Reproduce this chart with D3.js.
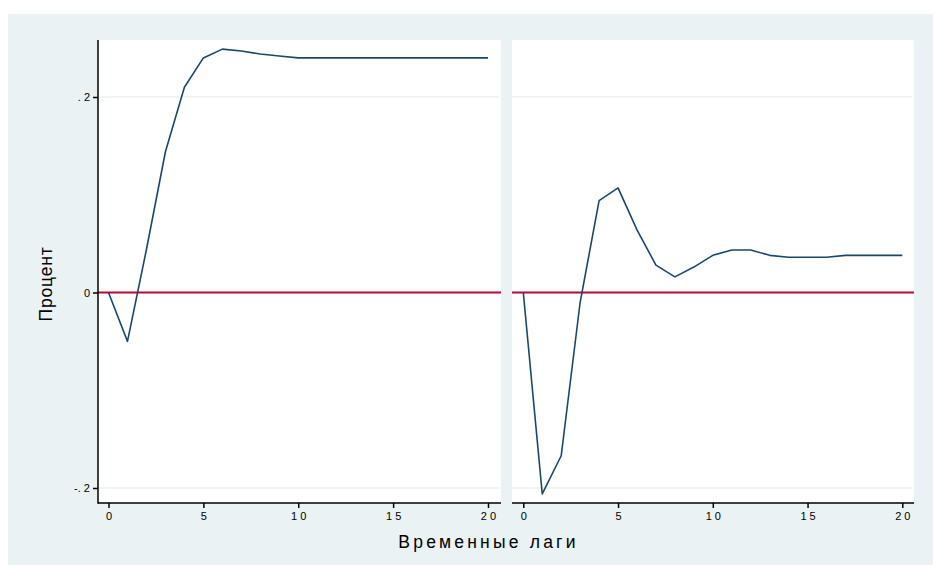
<!DOCTYPE html>
<html><head><meta charset="utf-8">
<script src="https://cdn.jsdelivr.net/npm/d3@7"></script>
<style>body{margin:0;background:#fff;}svg{display:block;font-family:Arial,"Liberation Sans",sans-serif;}</style>
</head><body>
<svg id="c" width="933" height="565"></svg>
<script>
const lags = d3.range(0, 21);
const seriesLeft = [0, -0.050, 0.044, 0.144, 0.210, 0.240, 0.249, 0.247, 0.244, 0.242, 0.240, 0.240, 0.240, 0.240, 0.240, 0.240, 0.240, 0.240, 0.240, 0.240, 0.240];
const seriesRight = [0, -0.206, -0.167, -0.010, 0.094, 0.107, 0.064, 0.028, 0.016, 0.026, 0.038, 0.0435, 0.0435, 0.038, 0.036, 0.036, 0.036, 0.038, 0.038, 0.038, 0.038];
const xTicks = [0, 5, 10, 15, 20];
const yTicks = [-0.2, 0, 0.2];
const yTickLabels = ["-. 2", "0", ". 2"];
const xTitle = "Временные лаги";
const yTitle = "Процент";

const svg = d3.select("#c");
const BG = "#eaf2f3", NAVY = "#1a476f", RED = "#c10534";
svg.append("rect").attr("x", 8).attr("y", 14).attr("width", 925).attr("height", 551).attr("fill", BG);

const plotTop = 40, plotBottom = 503;
const y = d3.scaleLinear().domain([-0.2, 0.2]).range([488, 97]);
const panels = [
  {left: 98, right: 501, x0: 108.5, x20: 488, data: seriesLeft, yaxis: true},
  {left: 512, right: 914, x0: 523.3, x20: 902.3, data: seriesRight, yaxis: false}
];

panels.forEach(p => {
  const x = d3.scaleLinear().domain([0, 20]).range([p.x0, p.x20]);
  const g = svg.append("g");
  g.append("rect").attr("x", p.left).attr("y", plotTop).attr("width", p.right - p.left).attr("height", plotBottom - plotTop).attr("fill", "#fff");
  g.selectAll(".grid").data(yTicks).enter().append("line")
    .attr("x1", p.left).attr("x2", p.right - 2)
    .attr("y1", d => y(d)).attr("y2", d => y(d))
    .attr("stroke", BG).attr("stroke-width", 1.5);
  g.append("line").attr("x1", p.left).attr("x2", p.right).attr("y1", y(0)).attr("y2", y(0))
    .attr("stroke", RED).attr("stroke-width", 2);
  const line = d3.line().x((d, i) => x(lags[i])).y(d => y(d));
  g.append("path").datum(p.data).attr("d", line).attr("fill", "none")
    .attr("stroke", NAVY).attr("stroke-width", 1.6).attr("stroke-linejoin", "round");
  const xa = g.append("g").attr("transform", `translate(0,${plotBottom})`)
    .call(d3.axisBottom(x).tickValues(xTicks).tickSize(5).tickPadding(4).tickFormat(d => String(d).split("").join(" ")));
  xa.select(".domain").remove();
  xa.append("line").attr("x1", p.left).attr("x2", p.right).attr("y1", 0).attr("y2", 0).attr("stroke", "#000").attr("stroke-width", 1.5);
  xa.selectAll(".tick line").attr("stroke", "#000").attr("stroke-width", 1.5);
  xa.selectAll(".tick text").attr("font-size", 11).attr("fill", "#000");
  if (p.yaxis) {
    const ya = g.append("g").attr("transform", `translate(${p.left},0)`)
      .call(d3.axisLeft(y).tickValues(yTicks).tickSize(5).tickPadding(3).tickFormat((d, i) => yTickLabels[i]));
    ya.select(".domain").remove();
    ya.append("line").attr("x1", 0).attr("x2", 0).attr("y1", plotTop).attr("y2", plotBottom + 0.75).attr("stroke", "#000").attr("stroke-width", 1.5);
    ya.selectAll(".tick line").attr("stroke", "#000").attr("stroke-width", 1.5);
    ya.selectAll(".tick text").attr("font-size", 11).attr("fill", "#000");
  }
});

svg.append("text").attr("x", 488.5).attr("y", 548).attr("text-anchor", "middle")
  .attr("font-size", 17.5).attr("letter-spacing", 3.2).attr("fill", "#000").text(xTitle);
svg.append("text").attr("transform", "translate(52,284) rotate(-90)").attr("text-anchor", "middle")
  .attr("font-size", 17.5).attr("letter-spacing", 0.8).attr("fill", "#000").text(yTitle);
</script>
</body></html>
